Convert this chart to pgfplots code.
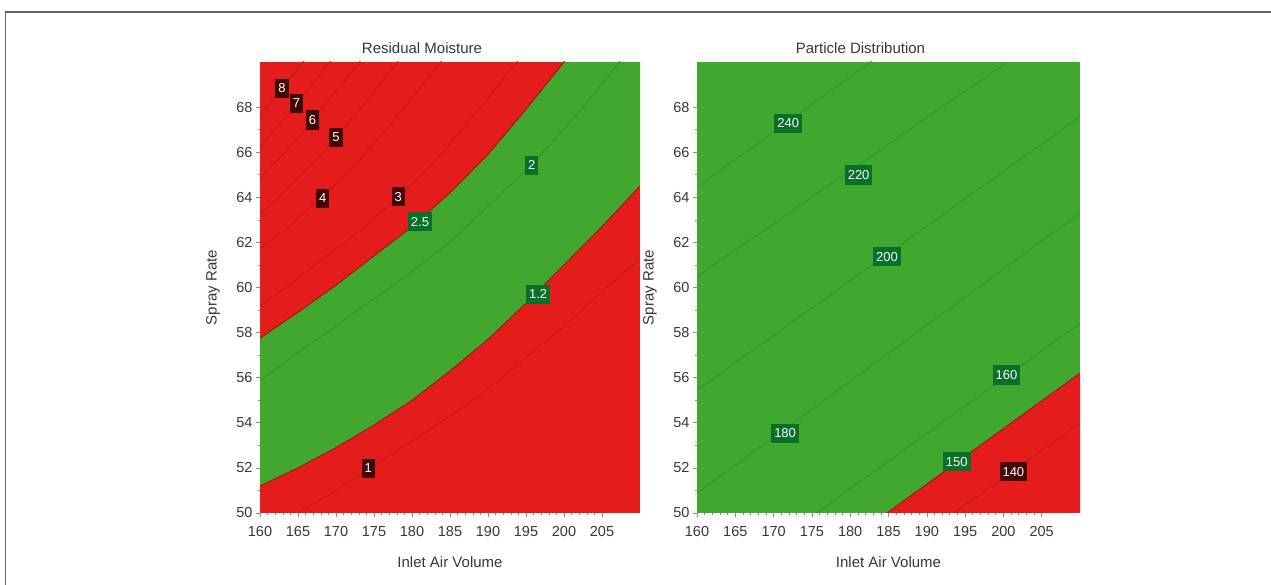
\documentclass[border=0pt]{standalone}
\usepackage{pgfplots}
\pgfplotsset{compat=1.18}
\usepackage{fontspec}
\setmainfont{Liberation Sans}
\definecolor{myred}{RGB}{228,28,28}
\definecolor{mygreen}{RGB}{66,167,46}
\definecolor{linered}{RGB}{204,22,22}
\definecolor{linegreen}{RGB}{46,152,38}
\definecolor{labgreen}{RGB}{8,112,40}
\definecolor{labred}{RGB}{66,6,6}
\definecolor{txt}{RGB}{55,55,55}
\begin{document}
\begin{tikzpicture}
\path[use as bounding box] (0pt,0pt) rectangle (1271pt,585pt);
\draw[black!60, line width=1.2pt] (5.5pt,0pt) -- (5.5pt,573pt) -- (1271pt,573pt);
\pgfplotsset{
 myaxis/.style={
  scale only axis, width=380pt, height=451pt,
  xmin=160, xmax=210, ymin=50, ymax=70,
  xtick={160,165,...,205}, ytick={50,52,...,68},
  minor x tick num=4, minor y tick num=1,
  tick pos=left,
  tick align=outside, major tick length=4pt, minor tick length=2pt,
  tick style={color=black!45, line width=0.6pt},
  axis line style={draw=none},
  ticklabel style={font=\fontsize{14.5}{14.5}\selectfont, text=txt},
  xticklabel style={yshift=-6pt},
  /pgf/number format/assume math mode=true,
  xlabel={Inlet Air Volume}, ylabel={Spray Rate},
  label style={font=\fontsize{15}{15}\selectfont, text=txt},
  xlabel style={at={(0.5,0)}, anchor=center, yshift=-49pt},
  ylabel style={at={(0,0.5)}, anchor=center, yshift=47pt},
  title style={font=\fontsize{15}{15}\selectfont, text=txt, at={(0.5,1)}, anchor=center, yshift=8pt, xshift=-28pt},
  cline/.style={draw=linered, line width=0.9pt},
  gline/.style={draw=linegreen, line width=0.9pt},
  labG/.style={draw=none, mark=none, nodes near coords, point meta=explicit symbolic,
    nodes near coords style={anchor=center, fill=labgreen, text=white, inner xsep=3pt, inner ysep=5pt, font=\fontsize{13}{13}\selectfont}},
  labR/.style={draw=none, mark=none, nodes near coords, point meta=explicit symbolic,
    nodes near coords style={anchor=center, fill=labred, text=white, inner xsep=3pt, inner ysep=5pt, font=\fontsize{13}{13}\selectfont}},
 }
}
% ---------------- Residual Moisture ----------------
\begin{axis}[myaxis, at={(260pt,72pt)}, anchor=south west, title={Residual Moisture},
  axis background/.style={fill=myred}]
\addplot[fill=mygreen, draw=none] coordinates {
 (160,57.75) (165,58.9) (170,60.1) (175,61.4) (180,62.7) (185,64.2) (190,65.9) (195,67.9) (200.1,70)
 (210,70) (210,64.5) (205,62.7) (200,61.0) (195,59.3) (190,57.7) (185,56.3) (180,55.0) (175,53.9)
 (170,52.9) (165,52.0) (160,51.2)};
\addplot[draw=linered!80!black, line width=0.9pt] coordinates {
 (160,57.75) (165,58.9) (170,60.1) (175,61.4) (180,62.7) (185,64.2) (190,65.9) (195,67.9) (200,70.0) (205,72.3)};
\addplot[draw=linered!80!black, line width=0.9pt] coordinates {
 (160,51.2) (165,52.0) (170,52.9) (175,53.9) (180,55.0) (185,56.3) (190,57.7) (195,59.3) (200,61.0) (205,62.7) (210,64.5)};
\addplot[gline] coordinates {
 (160,55.9) (165,57.1) (170,58.3) (175,59.5) (180,60.7) (185,62.0) (190,63.6) (195,65.2) (200,67.0) (205,69.0) (210,71.2)};
\addplot[cline] coordinates {
 (165,50) (170,51.0) (175,52.1) (180,53.2) (185,54.3) (190,55.5) (195,56.9) (200,58.3) (205,59.8) (210,61.3)};
\addplot[cline] coordinates {
 (153.8,57.75) (158.8,58.9) (163.8,60.1) (168.8,61.4) (173.8,62.7) (178.8,64.2) (183.8,65.9) (188.8,67.9) (193.8,70.0) (198.8,72.3)};
\addplot[cline] coordinates {
 (153.8,60.1) (158.8,61.4) (163.8,62.7) (168.8,64.2) (173.8,65.9) (178.8,67.9) (183.8,70.0) (188.8,72.3)};
\addplot[cline] coordinates {
 (153.1,61.4) (158.1,62.7) (163.1,64.2) (168.1,65.9) (173.1,67.9) (178.1,70.0) (183.1,72.3)};
\addplot[cline] coordinates {
 (153.1,62.7) (158.1,64.2) (163.1,65.9) (168.1,67.9) (173.1,70.0) (178.1,72.3)};
\addplot[cline] coordinates {
 (154.2,64.2) (159.2,65.9) (164.2,67.9) (169.2,70.0) (174.2,72.3)};
\addplot[cline] coordinates {
 (150.7,64.2) (155.7,65.9) (160.7,67.9) (165.7,70.0) (170.7,72.3)};
\addplot[labR] table[meta=l] {
x y l
162.9 68.83 8
164.8 68.17 7
166.9 67.43 6
170.0 66.66 5
168.25 63.96 4
178.2 64.03 3
174.25 51.98 1
};
\addplot[labG] table[meta=l] {
x y l
181.05 62.92 2.5
195.75 65.43 2
196.6 59.7 1.2
};
\end{axis}
% ---------------- Particle Distribution ----------------
\begin{axis}[myaxis, at={(697pt,72pt)}, anchor=south west, width=383pt, title={Particle Distribution},
  axis background/.style={fill=mygreen}]
\addplot[fill=myred, draw=none] coordinates {(184.8,50) (210,56.2) (210,50)};
\addplot[draw=linered!80!black, line width=0.9pt] coordinates {(184.8,50) (210,56.2)};
\addplot[gline] coordinates {(150,62.0) (190,71.8)};
\addplot[gline] coordinates {(160,60.48) (200.5,70)};
\addplot[gline] coordinates {(160,55.45) (210,67.57)};
\addplot[gline] coordinates {(160,50.87) (210,63.3)};
\addplot[gline] coordinates {(175.6,50) (210,58.41)};
\addplot[cline] coordinates {(193.5,50) (210,53.98)};
\addplot[labG] table[meta=l] {
x y l
171.9 67.28 240
181.1 64.99 220
184.8 61.37 200
171.5 53.53 180
200.4 56.12 160
193.9 52.27 150
};
\addplot[labR] table[meta=l] {
x y l
201.3 51.83 140
};
\end{axis}
\end{tikzpicture}
\end{document}
